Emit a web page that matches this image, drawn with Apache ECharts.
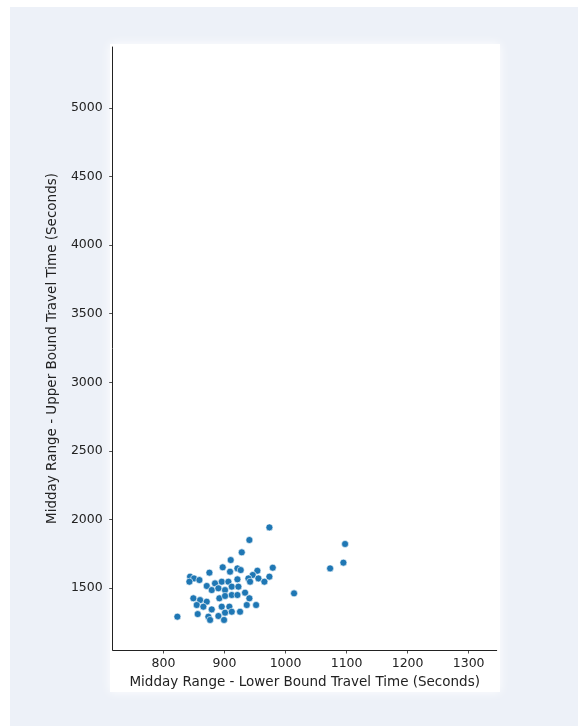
<!DOCTYPE html>
<html>
<head>
<meta charset="utf-8">
<script src="https://cdn.jsdelivr.net/npm/echarts@6/dist/echarts.min.js"></script>
<style>
  html, body { margin: 0; padding: 0; background: #ffffff; }
  #chart { width: 578px; height: 726px; }
</style>
</head>
<body>
<div id="chart"></div>
<script>
// Midday travel time ranges: lower bound (x) vs upper bound (y), in seconds
const lowerBound = [
  973.5, 940.7, 928.2, 910.1, 897.0, 909.0, 921.1, 926.5, 875.2, 953.8,
  979.0, 946.2, 955.5, 973.5, 965.3, 843.5, 850.0, 858.8, 842.4, 870.8,
  884.4, 895.4, 906.3, 921.1, 939.1, 941.8, 879.0, 889.9, 900.8, 911.8,
  922.7, 848.9, 859.9, 870.8, 891.5, 900.8, 911.8, 921.1, 933.6, 940.7,
  854.4, 865.3, 879.0, 895.4, 907.9, 925.4, 936.4, 951.7, 856.0, 873.5,
  889.9, 900.8, 911.8, 876.3, 899.2, 822.7, 1013.9, 1073.0, 1094.8, 1097.5
];
const upperBound = [
  1942, 1850, 1760, 1704, 1651, 1619, 1643, 1631, 1612, 1626,
  1648, 1595, 1570, 1583, 1546, 1583, 1570, 1558, 1546, 1515,
  1534, 1546, 1546, 1563, 1570, 1546, 1485, 1498, 1485, 1510,
  1510, 1425, 1412, 1400, 1425, 1442, 1449, 1449, 1466, 1425,
  1376, 1364, 1344, 1364, 1364, 1327, 1376, 1376, 1310, 1291,
  1296, 1320, 1327, 1267, 1267, 1291, 1461, 1643, 1685, 1821
];

const xTicks = [800, 900, 1000, 1100, 1200, 1300];
const yTicks = [1500, 2000, 2500, 3000, 3500, 4000, 4500, 5000];

const xTitle = 'Midday Range - Lower Bound Travel Time (Seconds)';
const yTitle = 'Midday Range - Upper Bound Travel Time (Seconds)';

const points = lowerBound.map((v, i) => [v, upperBound[i]]);

const font = 'DejaVu Sans';
const ink = '#222222';
const plain = v => String(v);

const chart = echarts.init(document.getElementById('chart'), null, { renderer: 'canvas' });

chart.setOption({
  animation: false,
  backgroundColor: '#ffffff',
  graphic: [
    {
      type: 'rect', z: -10, silent: true,
      shape: { x: 10, y: 7, width: 568, height: 719 },
      style: { fill: '#edf1f8' }
    },
    {
      type: 'rect', z: -9, silent: true,
      shape: { x: 110, y: 44, width: 390, height: 648 },
      style: { fill: '#ffffff', shadowBlur: 10, shadowColor: '#ffffff' }
    }
  ],
  grid: { left: 112.7, right: 81.3, top: 47, bottom: 76, containLabel: false },
  xAxis: {
    type: 'value',
    min: 716.7,
    max: 1346,
    name: xTitle,
    nameLocation: 'middle',
    nameGap: 25,
    nameTextStyle: { fontFamily: font, fontSize: 13.5, color: ink },
    splitLine: { show: false },
    axisLine: { show: true, lineStyle: { color: ink, width: 1 } },
    axisTick: { show: true, length: 3.5, customValues: xTicks, lineStyle: { color: ink, width: 0.8 } },
    axisLabel: { customValues: xTicks, formatter: plain, margin: 7, fontFamily: font, fontSize: 12.5, color: ink }
  },
  yAxis: {
    type: 'value',
    min: 1048,
    max: 5445,
    name: yTitle,
    nameLocation: 'middle',
    nameGap: 50,
    nameRotate: 90,
    nameTextStyle: { fontFamily: font, fontSize: 13.5, color: ink },
    splitLine: { show: false },
    axisLine: { show: true, lineStyle: { color: ink, width: 1 } },
    axisTick: { show: true, length: 3.5, customValues: yTicks, lineStyle: { color: ink, width: 0.8 } },
    axisLabel: { customValues: yTicks, formatter: plain, margin: 10, fontFamily: font, fontSize: 12.5, color: ink }
  },
  series: [{
    type: 'scatter',
    data: points,
    symbol: 'circle',
    symbolSize: 7,
    itemStyle: { color: '#1f77b4', borderColor: '#ffffff', borderWidth: 0.6, opacity: 1 }
  }]
});
</script>
</body>
</html>
